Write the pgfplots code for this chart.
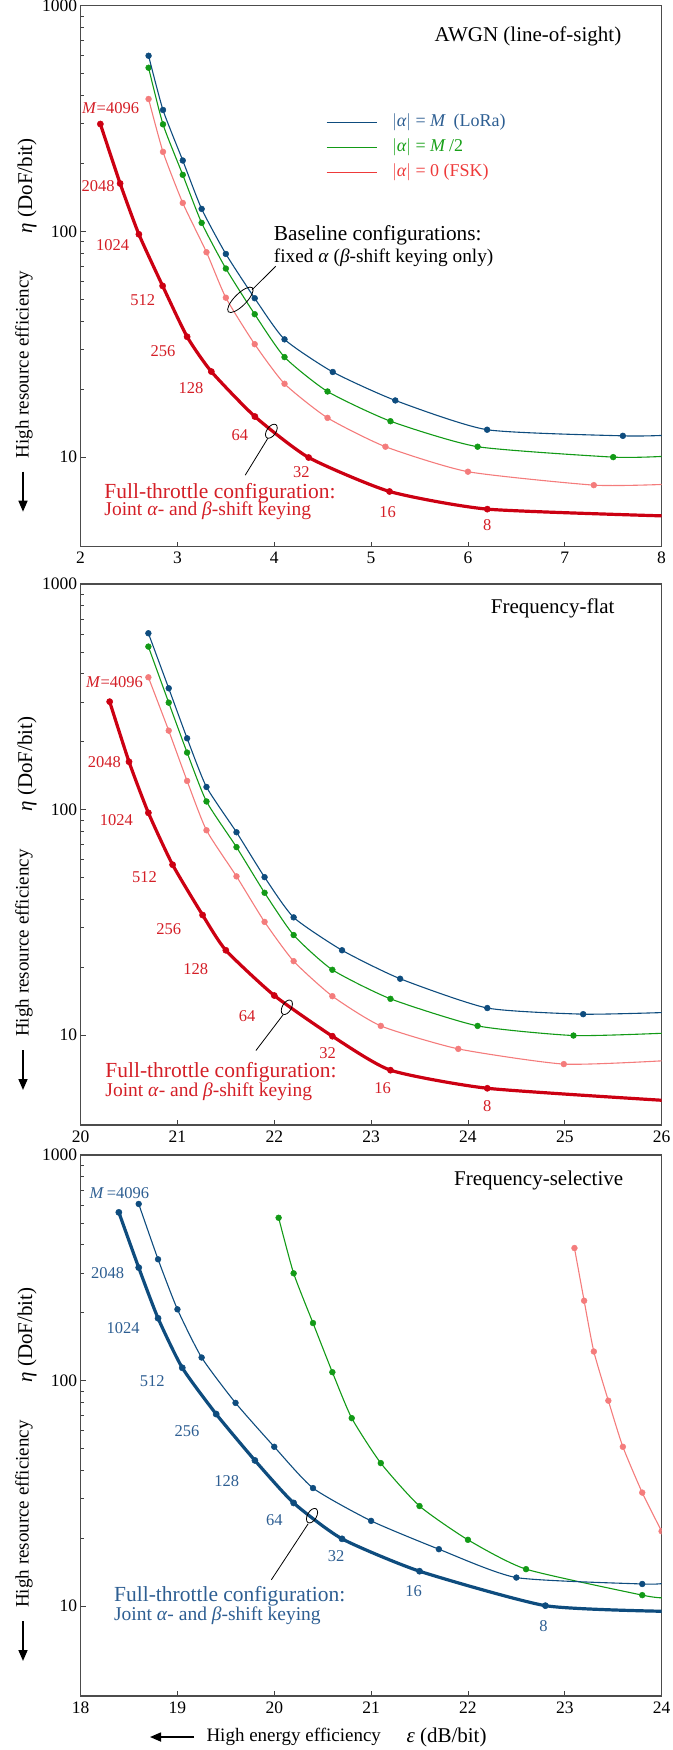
\documentclass[border=0pt]{standalone}
\usepackage{fontspec}
\setmainfont{Liberation Serif}
\usepackage{pgfplots}
\pgfplotsset{compat=1.18}
\usetikzlibrary{arrows.meta}
\definecolor{cblue}{HTML}{0E4C7E}
\definecolor{cgreen}{HTML}{129A16}
\definecolor{cpink}{HTML}{F47C7C}
\definecolor{cred}{HTML}{CC0012}
\definecolor{credtxt}{HTML}{D41E26}
\definecolor{cbluetxt}{HTML}{2D5E92}
\definecolor{cgreentxt}{HTML}{18A018}
\definecolor{clegred}{HTML}{EE3A3A}
\newcommand{\fs}[1]{\fontsize{#1bp}{#1bp}\selectfont}
\pgfplotsset{
  mypanel/.style={
    scale only axis, width=581bp, height=541bp,
    ymin=4, ymax=1000,
    ytick={10,100,1000}, yticklabels={10,100,1000},
    axis line style={draw=black!70, line width=1.1bp},
    tick style={black!75, line width=0.8bp},
    major tick length=5bp, minor tick length=3bp,
    tick align=inside, xtick pos=bottom, ytick pos=left,
    tick label style={font=\fs{17.5}},
    xticklabel style={yshift=-2bp},
    clip marker paths=true,
  },
  thinser/.style={line width=1.1bp, mark=*, mark size=2.9bp, mark options={solid, line width=0.5bp}, smooth, tension=0.35},
  thickser/.style={line width=3.2bp, mark=*, mark size=3.1bp, mark options={solid, line width=0.5bp}, smooth, tension=0.35},
}
\newcommand{\ylab}[1]{%
  \node[rotate=90, font=\fs{21}] at (27bp,{-(#1+180)*1bp}) {\textit{η} (DoF/bit)};
  \node[rotate=90, font=\fs{19}] at (24bp,{-(#1+359)*1bp}) {High resource efficiency};
  \draw[line width=1.6bp, -{Triangle[length=11bp,width=9bp]}] (23bp,{-(#1+466)*1bp}) -- (23bp,{-(#1+506)*1bp});
}
\begin{document}
\begin{tikzpicture}
\path[use as bounding box] (0,0) rectangle (673bp,-1750bp);

% ---------------- Panel 1: AWGN ----------------
\begin{axis}[ymode=log, mypanel, at={(80.6bp,-5.7bp)}, anchor=north west,
  xmin=2, xmax=8, xtick={2,3,4,5,6,7,8}, xticklabels={2,3,4,5,6,7,8}]
\addplot[thinser, cpink, mark indices={1,2,3,4,5,6,7,8,9,10,11}] coordinates {
(2.702,386)(2.851,225)(3.055,133.6)(3.30,80.8)(3.50,50.8)(3.798,31.6)(4.106,21.1)(4.55,14.9)(5.148,11.1)(6.0,8.6)(7.30,7.5)(8.0,7.55)};
\addplot[thinser, cgreen, mark indices={1,2,3,4,5,6,7,8,9,10,11}] coordinates {
(2.702,531)(2.851,298)(3.055,178)(3.25,109)(3.50,68.4)(3.798,42.9)(4.106,27.7)(4.55,19.5)(5.20,14.4)(6.10,11.1)(7.50,9.98)(8.0,10.05)};
\addplot[thinser, cblue, mark indices={1,2,3,4,5,6,7,8,9,10,11}] coordinates {
(2.702,600)(2.851,345)(3.055,206)(3.25,125.7)(3.50,79.4)(3.798,50.5)(4.106,33.2)(4.604,23.8)(5.25,17.8)(6.198,13.2)(7.60,12.4)(8.0,12.45)};
\addplot[thickser, cred, mark indices={1,2,3,4,5,6,7,8,9,10}] coordinates {
(2.204,299)(2.408,163)(2.602,97)(2.847,57.3)(3.10,34.1)(3.35,23.9)(3.80,15.1)(4.355,9.94)(5.19,7.03)(6.20,5.87)(8.0,5.48)};
\node[anchor=east, font=\fs{21}] at (axis cs:7.62,728) {AWGN (line-of-sight)};
% legend
\draw[cblue, line width=1.1bp] (axis cs:4.54,303) -- (axis cs:5.06,303);
\draw[cgreen, line width=1.1bp] (axis cs:4.54,235) -- (axis cs:5.06,235);
\draw[clegred, line width=1.1bp] (axis cs:4.54,183) -- (axis cs:5.06,183);
\node[anchor=west, font=\fs{18}, text=cbluetxt] at (axis cs:5.18,303) {$\left|\textit{α}\right|$ = \textit{M}\, (LoRa)};
\node[anchor=west, font=\fs{18}, text=cgreentxt] at (axis cs:5.18,235) {$\left|\textit{α}\right|$ = \textit{M}\,/2};
\node[anchor=west, font=\fs{18}, text=clegred] at (axis cs:5.18,183) {$\left|\textit{α}\right|$ = 0 (FSK)};
% M labels
\begin{scope}[font=\fs{16.5}, text=credtxt]
\node at (axis cs:2.31,352) {\textit{M}=4096};
\node at (axis cs:2.18,158) {2048};
\node at (axis cs:2.33,87) {1024};
\node at (axis cs:2.643,49.7) {512};
\node at (axis cs:2.85,29.5) {256};
\node at (axis cs:3.14,20.2) {128};
\node at (axis cs:3.644,12.5) {64};
\node at (axis cs:4.28,8.6) {32};
\node at (axis cs:5.17,5.7) {16};
\node at (axis cs:6.20,5.0) {8};
\end{scope}
\node[anchor=west, font=\fs{21.5}, text=credtxt] at (axis cs:2.21,6.9) {Full-throttle configuration:};
\node[anchor=west, font=\fs{19.5}, text=credtxt] at (axis cs:2.21,5.75) {Joint \textit{α}- and \textit{β}-shift keying};
\draw[line width=0.8bp] (axis cs:3.97,13.0) ellipse [x radius=8bp, y radius=4.5bp, rotate=55];
\draw[line width=0.8bp] (axis cs:3.934,12.1) -- (axis cs:3.70,8.3);
% baseline annotation
\draw[line width=0.8bp] (axis cs:3.65,49.7) ellipse [x radius=17bp, y radius=6bp, rotate=45];
\draw[line width=0.8bp] (axis cs:3.77,55) -- (axis cs:4.015,70);
\node[anchor=west, font=\fs{21.3}] at (axis cs:3.96,96.4) {Baseline configurations:};
\node[anchor=west, font=\fs{19.3}] at (axis cs:3.96,76) {fixed \textit{α} (\textit{β}-shift keying only)};
\end{axis}
\ylab{5.7}

% ---------------- Panel 2: Frequency-flat ----------------
\begin{axis}[ymode=log, mypanel, at={(80.6bp,-584bp)}, anchor=north west,
  xmin=20, xmax=26, xtick={20,21,22,23,24,25,26}, xticklabels={20,21,22,23,24,25,26}]
\addplot[thinser, cpink, mark indices={1,2,3,4,5,6,7,8,9,10,11}] coordinates {
(20.70,386)(20.91,224)(21.10,134)(21.30,81)(21.61,50.6)(21.90,31.8)(22.2,21.3)(22.6,14.9)(23.10,11.0)(23.90,8.7)(24.99,7.45)(26,7.7)};
\addplot[thinser, cgreen, mark indices={1,2,3,4,5,6,7,8,9,10,11}] coordinates {
(20.70,528)(20.91,298)(21.10,179)(21.30,108.7)(21.61,68.2)(21.90,42.8)(22.2,27.8)(22.60,19.5)(23.20,14.5)(24.10,11.0)(25.09,9.97)(26,10.2)};
\addplot[thinser, cblue, mark indices={1,2,3,4,5,6,7,8,9,10,11}] coordinates {
(20.70,605)(20.91,345)(21.10,207)(21.30,126)(21.61,79.4)(21.90,50.2)(22.20,33.3)(22.70,23.8)(23.30,17.8)(24.20,13.2)(25.19,12.4)(26,12.6)};
\addplot[thickser, cred, mark indices={1,2,3,4,5,6,7,8,9,10}] coordinates {
(20.30,301)(20.50,163)(20.70,96.8)(20.95,57)(21.26,34.1)(21.50,23.8)(22.0,15.0)(22.60,9.9)(23.20,7.0)(24.20,5.82)(26,5.15)};
\node[anchor=east, font=\fs{21}] at (axis cs:25.55,780) {Frequency-flat};
\begin{scope}[font=\fs{16.5}, text=credtxt]
\node at (axis cs:20.35,367) {\textit{M}=4096};
\node at (axis cs:20.245,163) {2048};
\node at (axis cs:20.37,90) {1024};
\node at (axis cs:20.66,50) {512};
\node at (axis cs:20.91,29.4) {256};
\node at (axis cs:21.19,19.6) {128};
\node at (axis cs:21.72,12.1) {64};
\node at (axis cs:22.55,8.35) {32};
\node at (axis cs:23.12,5.82) {16};
\node at (axis cs:24.2,4.83) {8};
\end{scope}
\node[anchor=west, font=\fs{21.5}, text=credtxt] at (axis cs:20.22,6.84) {Full-throttle configuration:};
\node[anchor=west, font=\fs{19.5}, text=credtxt] at (axis cs:20.22,5.6) {Joint \textit{α}- and \textit{β}-shift keying};
\draw[line width=0.8bp] (axis cs:22.13,13.3) ellipse [x radius=8bp, y radius=4.5bp, rotate=60];
\draw[line width=0.8bp] (axis cs:22.09,12.3) -- (axis cs:21.81,8.55);
\end{axis}
\ylab{584}

% ---------------- Panel 3: Frequency-selective ----------------
\begin{axis}[ymode=log, mypanel, at={(80.6bp,-1155bp)}, anchor=north west,
  xmin=18, xmax=24, xtick={18,19,20,21,22,23,24}, xticklabels={18,19,20,21,22,23,24}]
\addplot[thinser, cpink] coordinates {
(23.10,387)(23.20,226)(23.30,134.6)(23.45,81.5)(23.60,50.9)(23.80,31.9)(24.0,21.5)};
\addplot[thinser, cgreen, mark indices={1,2,3,4,5,6,7,8,9,10}] coordinates {
(20.045,527)(20.20,299)(20.40,180)(20.60,109)(20.80,68.2)(21.10,43.1)(21.50,27.8)(22.0,19.7)(22.60,14.6)(23.80,11.2)(24,10.9)};
\addplot[thinser, cblue, mark indices={1,2,3,4,5,6,7,8,9,10,11}] coordinates {
(18.60,607)(18.80,345)(19.0,207)(19.25,126.6)(19.60,79.7)(20.0,50.9)(20.40,33.4)(21.0,23.9)(21.70,17.9)(22.50,13.4)(23.80,12.55)(24,12.6)};
\addplot[thickser, cblue, mark indices={1,2,3,4,5,6,7,8,9,10}] coordinates {
(18.395,557)(18.60,317)(18.80,189)(19.05,114)(19.40,71.1)(19.80,44.3)(20.20,28.7)(20.70,19.9)(21.50,14.3)(22.80,10.06)(24,9.5)};
\node[anchor=east, font=\fs{21}] at (axis cs:23.64,774) {Frequency-selective};
\begin{scope}[font=\fs{16.5}, text=cbluetxt]
\node at (axis cs:18.40,681) {\textit{M}\,=4096};
\node at (axis cs:18.28,299) {2048};
\node at (axis cs:18.44,171) {1024};
\node at (axis cs:18.74,100) {512};
\node at (axis cs:19.10,59.6) {256};
\node at (axis cs:19.51,35.7) {128};
\node at (axis cs:20.0,24.2) {64};
\node at (axis cs:20.64,16.6) {32};
\node at (axis cs:21.44,11.7) {16};
\node at (axis cs:22.78,8.2) {8};
\end{scope}
\node[anchor=west, font=\fs{21.5}, text=cbluetxt] at (axis cs:18.31,11.1) {Full-throttle configuration:};
\node[anchor=west, font=\fs{19.5}, text=cbluetxt] at (axis cs:18.31,9.1) {Joint \textit{α}- and \textit{β}-shift keying};
\draw[line width=0.8bp] (axis cs:20.39,25.2) ellipse [x radius=8bp, y radius=4.5bp, rotate=60];
\draw[line width=0.8bp] (axis cs:20.35,23.2) -- (axis cs:19.97,13.1);
\end{axis}
\ylab{1155}

% bottom x label
\draw[line width=1.6bp, -{Triangle[length=11bp,width=9bp]}] (194bp,-1737bp) -- (150bp,-1737bp);
\node[anchor=west, font=\fs{19}] at (203bp,-1737bp) {High energy efficiency};
\node[anchor=west, font=\fs{21}] at (403bp,-1737bp) {\textit{ε} (dB/bit)};
\end{tikzpicture}
\end{document}
